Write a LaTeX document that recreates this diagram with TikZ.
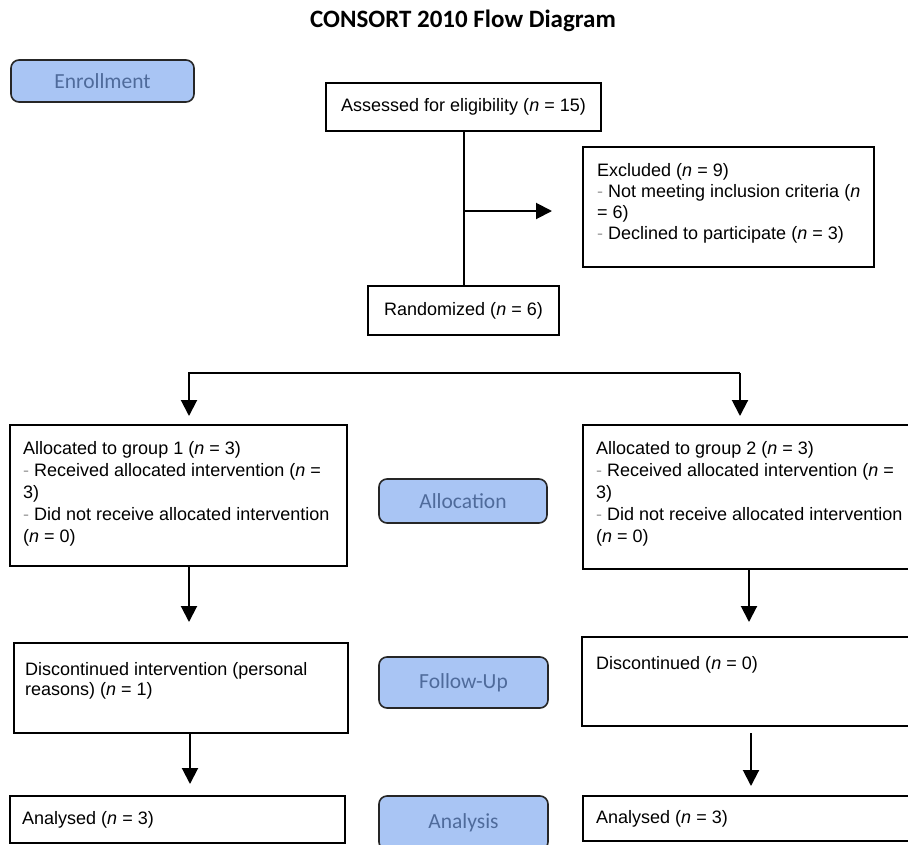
\documentclass[tikz,border=0pt]{standalone}
\usepackage{fontspec}
\usetikzlibrary{arrows.meta}
\newfontfamily\arialf{Liberation Sans}
\newfontfamily\calf{Carlito}
\definecolor{lblfill}{HTML}{A9C5F4}
\definecolor{lbltext}{HTML}{4F6B9B}
\definecolor{bulgray}{HTML}{A0A0A0}
\newcommand{\bul}{\textcolor{bulgray}{-}\hspace{5pt}}
\newcommand{\nn}{\textit{n}}
\tikzset{
  box/.style={draw=black, line width=2pt, fill=white, inner sep=0pt,
    font=\arialf\fontsize{18}{22}\selectfont},
  lbl/.style={draw=black!85, line width=1.6pt, fill=lblfill, rounded corners=8pt,
    inner sep=0pt, text=lbltext, font=\calf\fontsize{21.5}{25}\selectfont},
  txt/.style={inner sep=0pt, align=left, anchor=north west,
    font=\arialf\fontsize{18}{22}\selectfont},
  txtl/.style={inner sep=0pt, anchor=west, font=\arialf\fontsize{18}{22}\selectfont},
  conn/.style={line width=2pt, draw=black},
  arr/.style={line width=2pt, draw=black, -{Triangle[length=16pt,width=16pt]}},
  titlest/.style={inner sep=0pt, font=\calf\bfseries\fontsize{25}{29}\selectfont}
}
\begin{document}
\begin{tikzpicture}[x=1pt,y=-1pt]
\useasboundingbox (0,0) rectangle (908,844);
\clip (0,0) rectangle (908,844);
\fill[white] (0,0) rectangle (908,844);

\node[titlest] (title) at (463,21) {CONSORT 2010 Flow Diagram};

% phase labels
\node[lbl, minimum width=183pt, minimum height=42pt] (enr) at (102.5,81) {Enrollment};
\node[lbl, minimum width=168pt, minimum height=44pt] (allo) at (463,501) {Allocation};
\node[lbl, minimum width=169pt, minimum height=51pt] (fup) at (463.5,682.5) {Follow-Up};
\node[lbl, minimum width=169pt, minimum height=54pt] (ana) at (463.5,823) {Analysis};

% boxes
\node[box, minimum width=275pt, minimum height=48pt] (assess) at (463.5,107) {Assessed for eligibility (\nn{} = 15)};
\node[box, minimum width=291pt, minimum height=120pt] (excl) at (728.5,207) {};
\node[box, minimum width=191pt, minimum height=49pt] (rand) at (463.5,310.5) {Randomized (\nn{} = 6)};
\node[box, minimum width=337pt, minimum height=141pt] (al1) at (178.5,495.5) {};
\node[box, minimum width=332pt, minimum height=144pt] (al2) at (749,497) {};
\node[box, minimum width=334pt, minimum height=90pt] (dc1) at (181,688) {};
\node[box, minimum width=333pt, minimum height=89pt] (dc2) at (748.5,681.5) {};
\node[box, minimum width=335pt, minimum height=47pt] (an1) at (177.5,819.5) {};
\node[box, minimum width=332pt, minimum height=45pt] (an2) at (749,818.5) {};

% texts
\node[txt, font=\arialf\fontsize{18}{21}\selectfont] (excltxt) at (597,163) {Excluded (\nn{} = 9)\\
\bul Not meeting inclusion criteria (\nn\\
= 6)\\
\bul Declined to participate (\nn{} = 3)};
\node[txt] (al1txt) at (23,441) {Allocated to group 1 (\nn{} = 3)\\
\bul Received allocated intervention (\nn{} =\\
3)\\
\bul Did not receive allocated intervention\\
(\nn{} = 0)};
\node[txt] (al2txt) at (596,441) {Allocated to group 2 (\nn{} = 3)\\
\bul Received allocated intervention (\nn{} =\\
3)\\
\bul Did not receive allocated intervention\\
(\nn{} = 0)};
\node[txt, font=\arialf\fontsize{18}{20.5}\selectfont] (dc1txt) at (25,662) {Discontinued intervention (personal\\
reasons) (\nn{} = 1)};
\node[txt] (dc2txt) at (596,656) {Discontinued (\nn{} = 0)};
\node[txtl] (an1txt) at (22,820) {Analysed (\nn{} = 3)};
\node[txtl] (an2txt) at (596,819) {Analysed (\nn{} = 3)};

% connectors
\coordinate (exj) at (463.5,211);
\coordinate (exend) at (552,211);
\coordinate (splitL) at (189,373);
\coordinate (splitR) at (740,373);
\coordinate (mid2) at (749,623);

\draw[conn] (assess.south) -- (rand.north);
\draw[arr] (exj) -- (exend);
\draw[arr, shorten >=8pt] (splitR) -- (splitL) -- (splitL |- al1.north);
\draw[arr, shorten >=8pt] (splitR) -- (splitR |- al2.north);
\draw[arr, shorten >=20pt] (splitL |- al1.south) -- (splitL |- dc1.north);
\draw[arr, shorten >=14pt] (mid2 |- al2.south) -- (mid2 |- dc2.north);
\draw[arr, shorten >=11pt] (190,733) coordinate (l2s) -- (l2s |- an1.north);
\draw[arr, shorten >=9pt, shorten <=7pt] (751,726) coordinate (r2s) -- (r2s |- an2.north);
\end{tikzpicture}
\end{document}
